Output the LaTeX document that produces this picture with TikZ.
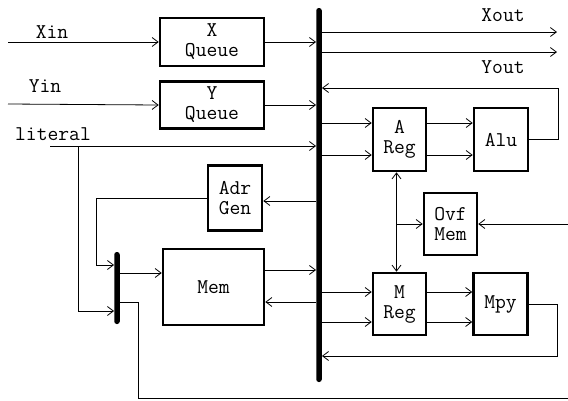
\documentclass[tikz,border=0pt]{standalone}
\usetikzlibrary{arrows.meta}

\begin{document}
\begin{tikzpicture}[x=1pt, y=-1pt,
    every node/.style={font=\ttfamily\fontsize{21}{20}\selectfont},
    unit/.style={draw, line width=2.6pt, align=center, inner sep=0pt},
    busbar/.style={fill=black, rounded corners=2.5pt, inner sep=0pt, minimum width=5.5pt},
    lbl/.style={inner sep=0pt},
    link/.style={line width=0.8pt, -{Straight Barb[length=6pt,width=9pt]}},
    wire/.style={line width=0.8pt}
]
\useasboundingbox (0,0) rectangle (568,400);

% buses
\node[busbar, minimum height=374pt] (bus) at (319,195) {};
\node[busbar, minimum height=72pt] (sbus) at (117,288) {};

% units
\node[unit, minimum width=104pt, minimum height=48pt] (xq) at (212,42) {X\\Queue};
\node[unit, minimum width=104pt, minimum height=47pt] (yq) at (212,105) {Y\\Queue};
\node[unit, minimum width=54pt, minimum height=65pt] (adr) at (235,198) {Adr\\Gen};
\node[unit, minimum width=101pt, minimum height=76pt] (mem) at (213.5,287) {Mem};
\node[unit, minimum width=53pt, minimum height=63pt] (areg) at (399.5,139.5) {A\\Reg};
\node[unit, minimum width=54pt, minimum height=63pt] (alu) at (501,139.5) {Alu};
\node[unit, minimum width=53pt, minimum height=62pt] (ovf) at (450.5,224) {Ovf\\Mem};
\node[unit, minimum width=53pt, minimum height=62pt] (mreg) at (399.5,304) {M\\Reg};
\node[unit, minimum width=54pt, minimum height=62pt] (mpy) at (500.5,304) {Mpy};

% labels
\node[lbl] (xinl) at (52,32) {Xin};
\node[lbl] (yinl) at (45,86) {Yin};
\node[lbl] (litl) at (53,134) {literal};
\node[lbl] (xoutl) at (503,15) {Xout};
\node[lbl] (youtl) at (503,67) {Yout};

% free ends
\coordinate (xin) at (8,42);
\coordinate (yin) at (8,104);
\coordinate (lit) at (50,146);
\coordinate (litj) at (78,146);
\coordinate (xout) at (557,32);
\coordinate (yout) at (557,52);
\coordinate (afb) at (558,88);
\coordinate (mfb) at (557,356);
\coordinate (ovfin) at (568,224);
\coordinate (adrj) at (96,265);
\coordinate (bot) at (138,398);
\coordinate (botend) at (568,398);

% inputs
\draw[link] (xin) -- (xq.west);
\draw[link] (yin) -- (yq.west);
\draw[link] (xq.east) -- (xq.east -| bus.west);
\draw[link] (yq.east) -- (yq.east -| bus.west);
\draw[link] (lit) -- (lit -| bus.west);
\draw[link] (litj) |- (sbus.west |- 0,311);

% outputs
\draw[link] (xout -| bus.east) -- (xout);
\draw[link] (yout -| bus.east) -- (yout);

% A side
\foreach \y in {123,155} {
  \draw[link] (bus.east |- 0,\y) -- (areg.west |- 0,\y);
  \draw[link] (areg.east |- 0,\y) -- (alu.west |- 0,\y);
}
\draw[link] (alu.east) -| (afb) -- (afb -| bus.east);

% M side
\foreach \y in {292,322} {
  \draw[link] (bus.east |- 0,\y) -- (mreg.west |- 0,\y);
  \draw[link] (mreg.east |- 0,\y) -- (mpy.west |- 0,\y);
}
\draw[link] (mpy.east) -| (mfb) -- (mfb -| bus.east);

% overflow
\draw[wire, {Straight Barb[length=6pt,width=9pt]}-{Straight Barb[length=6pt,width=9pt]}]
  ([xshift=-3pt]areg.south) -- ([xshift=-3pt]areg.south |- mreg.north);
\draw[link] ([xshift=-3pt]areg.south |- ovf.west) -- (ovf.west);
\draw[link] (ovfin) -- (ovf.east);

% memory
\draw[link] (bus.west |- 0,201) -- (adr.east |- 0,201);
\draw[link] (adr.west) -| (adrj) -- (adrj -| sbus.west);
\draw[link] (sbus.east |- 0,273) -- (mem.west |- 0,273);
\draw[link] (mem.east |- 0,270) -- (bus.west |- 0,270);
\draw[link] (bus.west |- 0,302) -- (mem.east |- 0,302);
\draw[wire] (sbus.east |- 0,302) -| (bot) -- (botend);

\end{tikzpicture}
\end{document}
